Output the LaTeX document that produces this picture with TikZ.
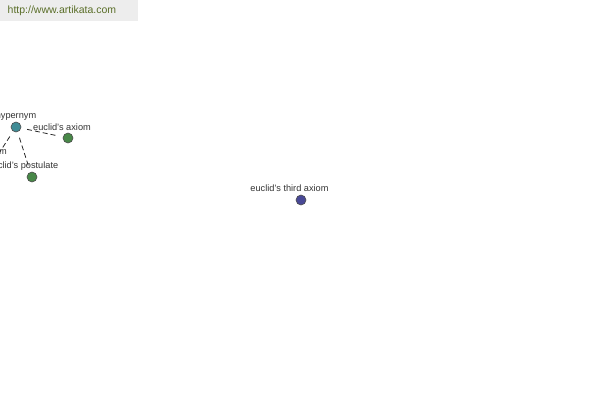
\documentclass[tikz,border=0pt]{standalone}
\usepackage{fontspec}
\setmainfont{Liberation Sans}
\usetikzlibrary{positioning}

\definecolor{hypercol}{RGB}{64,140,150}
\definecolor{termcol}{RGB}{72,136,72}
\definecolor{thirdcol}{RGB}{72,72,150}
\definecolor{sitecol}{RGB}{90,110,40}

\begin{document}
\begin{tikzpicture}
	[x=1pt, y=-1pt,
	dot/.style={circle, draw=black!70, line width=0.6pt, minimum size=10pt, inner sep=0pt},
	word/.style={font=\fontsize{9.2}{10}\selectfont, text=black!80, inner sep=0pt},
	link/.style={draw=black!85, line width=0.8pt, dash pattern=on 5pt off 3pt, shorten <=6pt, shorten >=6pt}]

\useasboundingbox (0, 0) rectangle (600, 400);

% Site banner
\fill[black!7] (0, 0) rectangle (138, 21);
\node[anchor=west, inner sep=0pt, text=sitecol, font=\fontsize{10.5}{11}\selectfont]
	(site) at (7.5, 11) {http://www.artikata.com};

% Nodes
\node[dot, fill=hypercol] (hypernym) at (16, 127) {};
\node[dot, fill=termcol] (axiom) at (68, 138) {};
\node[dot, fill=termcol] (postulate) at (32, 177) {};
\node[dot, fill=termcol] (synonym) at (-8, 164) {};
\node[dot, fill=thirdcol] (third) at (301, 200) {};

% Labels
\node[word] (hypernymlabel) at (16, 116) {hypernym};
\node[word] (axiomlabel) at (62, 127) {euclid's axiom};
\node[word] (postulatelabel) at (23, 166) {euclid's postulate};
\node[word] (synonymlabel) at (-11.5, 153) {synonym};
\node[word] (thirdlabel) at (289.5, 188) {euclid's third axiom};

% Links
\draw[link] (hypernym) -- (axiom);
\draw[link] (hypernym) -- (postulate);
\draw[link] (hypernym) -- (synonym);

\end{tikzpicture}
\end{document}
